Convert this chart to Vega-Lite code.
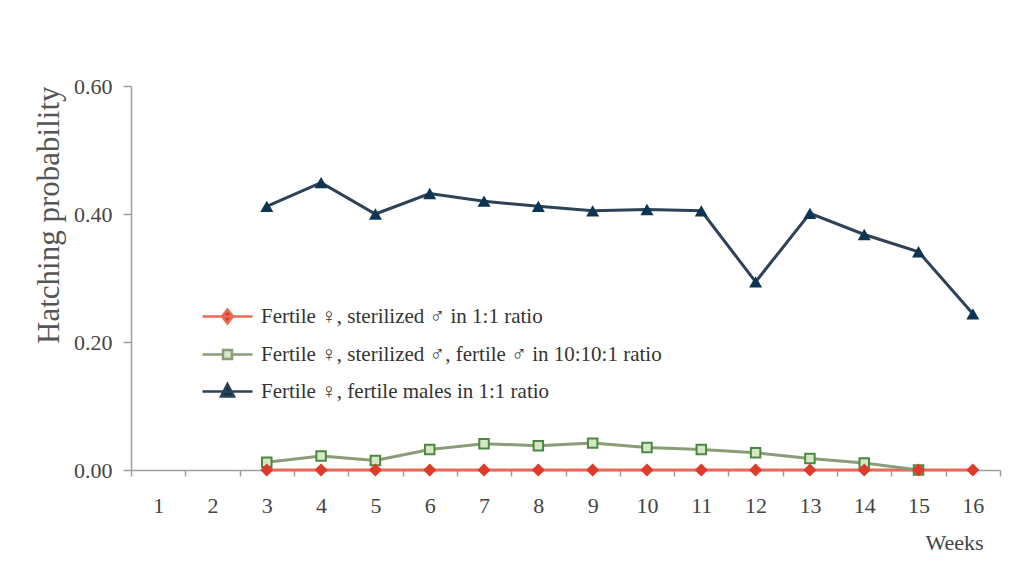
{
  "$schema": "https://vega.github.io/schema/vega-lite/v6.json",
  "width": 869,
  "height": 384,
  "autosize": "none",
  "padding": {"left": 131, "top": 86, "right": 19, "bottom": 93},
  "background": "white",
  "config": {"font": "Liberation Serif", "view": {"stroke": null}},
  "data": {"values": [
    {"week": 3, "series": "Fertile ♀, sterilized ♂ in 1:1 ratio", "p": 0},
    {"week": 4, "series": "Fertile ♀, sterilized ♂ in 1:1 ratio", "p": 0},
    {"week": 5, "series": "Fertile ♀, sterilized ♂ in 1:1 ratio", "p": 0},
    {"week": 6, "series": "Fertile ♀, sterilized ♂ in 1:1 ratio", "p": 0},
    {"week": 7, "series": "Fertile ♀, sterilized ♂ in 1:1 ratio", "p": 0},
    {"week": 8, "series": "Fertile ♀, sterilized ♂ in 1:1 ratio", "p": 0},
    {"week": 9, "series": "Fertile ♀, sterilized ♂ in 1:1 ratio", "p": 0},
    {"week": 10, "series": "Fertile ♀, sterilized ♂ in 1:1 ratio", "p": 0},
    {"week": 11, "series": "Fertile ♀, sterilized ♂ in 1:1 ratio", "p": 0},
    {"week": 12, "series": "Fertile ♀, sterilized ♂ in 1:1 ratio", "p": 0},
    {"week": 13, "series": "Fertile ♀, sterilized ♂ in 1:1 ratio", "p": 0},
    {"week": 14, "series": "Fertile ♀, sterilized ♂ in 1:1 ratio", "p": 0},
    {"week": 15, "series": "Fertile ♀, sterilized ♂ in 1:1 ratio", "p": 0},
    {"week": 16, "series": "Fertile ♀, sterilized ♂ in 1:1 ratio", "p": 0},
    {"week": 3, "series": "Fertile ♀, sterilized ♂, fertile ♂ in 10:10:1 ratio", "p": 0.012},
    {"week": 4, "series": "Fertile ♀, sterilized ♂, fertile ♂ in 10:10:1 ratio", "p": 0.022},
    {"week": 5, "series": "Fertile ♀, sterilized ♂, fertile ♂ in 10:10:1 ratio", "p": 0.015},
    {"week": 6, "series": "Fertile ♀, sterilized ♂, fertile ♂ in 10:10:1 ratio", "p": 0.032},
    {"week": 7, "series": "Fertile ♀, sterilized ♂, fertile ♂ in 10:10:1 ratio", "p": 0.041},
    {"week": 8, "series": "Fertile ♀, sterilized ♂, fertile ♂ in 10:10:1 ratio", "p": 0.038},
    {"week": 9, "series": "Fertile ♀, sterilized ♂, fertile ♂ in 10:10:1 ratio", "p": 0.042},
    {"week": 10, "series": "Fertile ♀, sterilized ♂, fertile ♂ in 10:10:1 ratio", "p": 0.035},
    {"week": 11, "series": "Fertile ♀, sterilized ♂, fertile ♂ in 10:10:1 ratio", "p": 0.032},
    {"week": 12, "series": "Fertile ♀, sterilized ♂, fertile ♂ in 10:10:1 ratio", "p": 0.027},
    {"week": 13, "series": "Fertile ♀, sterilized ♂, fertile ♂ in 10:10:1 ratio", "p": 0.018},
    {"week": 14, "series": "Fertile ♀, sterilized ♂, fertile ♂ in 10:10:1 ratio", "p": 0.011},
    {"week": 15, "series": "Fertile ♀, sterilized ♂, fertile ♂ in 10:10:1 ratio", "p": 0.0},
    {"week": 3, "series": "Fertile ♀, fertile males in 1:1 ratio", "p": 0.412},
    {"week": 4, "series": "Fertile ♀, fertile males in 1:1 ratio", "p": 0.449},
    {"week": 5, "series": "Fertile ♀, fertile males in 1:1 ratio", "p": 0.4},
    {"week": 6, "series": "Fertile ♀, fertile males in 1:1 ratio", "p": 0.432},
    {"week": 7, "series": "Fertile ♀, fertile males in 1:1 ratio", "p": 0.42},
    {"week": 8, "series": "Fertile ♀, fertile males in 1:1 ratio", "p": 0.412},
    {"week": 9, "series": "Fertile ♀, fertile males in 1:1 ratio", "p": 0.405},
    {"week": 10, "series": "Fertile ♀, fertile males in 1:1 ratio", "p": 0.407},
    {"week": 11, "series": "Fertile ♀, fertile males in 1:1 ratio", "p": 0.405},
    {"week": 12, "series": "Fertile ♀, fertile males in 1:1 ratio", "p": 0.294},
    {"week": 13, "series": "Fertile ♀, fertile males in 1:1 ratio", "p": 0.401},
    {"week": 14, "series": "Fertile ♀, fertile males in 1:1 ratio", "p": 0.368},
    {"week": 15, "series": "Fertile ♀, fertile males in 1:1 ratio", "p": 0.341},
    {"week": 16, "series": "Fertile ♀, fertile males in 1:1 ratio", "p": 0.244}
  ]},
  "encoding": {
    "x": {
      "field": "week", "type": "ordinal", "bandPosition": 0.5,
      "scale": {"type": "band", "domain": [1,2,3,4,5,6,7,8,9,10,11,12,13,14,15,16], "paddingInner": 0, "paddingOuter": 0},
      "axis": {
        "labelAngle": 0, "tickBand": "extent", "tickSize": 6, "labelPadding": 19,
        "labelFontSize": 22, "labelColor": "#444", "domainColor": "#a0a0a0", "domainWidth": 1.5,
        "tickColor": "#a0a0a0", "tickWidth": 1.5, "grid": false,
        "title": "Weeks", "titleFontSize": 22, "titleFontWeight": "normal", "titleColor": "#444",
        "titleAlign": "right", "titleX": 852, "titlePadding": 16
      }
    },
    "y": {
      "field": "p", "type": "quantitative",
      "scale": {"domain": [0, 0.6]},
      "axis": {
        "values": [0, 0.2, 0.4, 0.6], "format": ".2f", "grid": false,
        "tickSize": 8, "labelPadding": 11, "labelFontSize": 22, "labelColor": "#444",
        "domainColor": "#a0a0a0", "domainWidth": 1.5, "tickColor": "#a0a0a0", "tickWidth": 1.5,
        "title": "Hatching probability", "titleFontSize": 31, "titleFontWeight": "normal",
        "titleColor": "#555", "titleAnchor": "end", "titlePadding": 8
      }
    }
  },
  "layer": [
    {
      "mark": {"type": "line", "strokeWidth": 3},
      "encoding": {
        "color": {
          "field": "series", "type": "nominal",
          "scale": {
            "domain": ["Fertile ♀, sterilized ♂ in 1:1 ratio", "Fertile ♀, sterilized ♂, fertile ♂ in 10:10:1 ratio", "Fertile ♀, fertile males in 1:1 ratio"],
            "range": ["#ea6a58", "#8a9c78", "#2d4256"]
          },
          "legend": {
            "orient": "none", "legendX": 85, "legendY": 219, "title": null,
            "symbolSize": 400, "symbolStrokeWidth": 2.5, "labelFontSize": 21, "labelColor": "#333",
            "labelFont": "Liberation Serif, Noto Sans CJK JP",
            "labelOffset": 22, "rowPadding": 14, "padding": 0, "labelLimit": 700,
            "encode": {
              "symbols": {
                "update": {
                  "shape": {"signal": "datum.value == 'Fertile ♀, sterilized ♂, fertile ♂ in 10:10:1 ratio' ? 'M-2.5,0L-0.45,0M0.45,0L2.5,0M-0.45,-0.45L0.45,-0.45L0.45,0.45L-0.45,0.45Z' : datum.value == 'Fertile ♀, fertile males in 1:1 ratio' ? 'M-2.5,0L2.5,0M0,-0.75L0.65,0.5L-0.65,0.5Z' : 'M-2.5,0L2.5,0M0,-0.7L0.55,0L0,0.7L-0.55,0Z'"},
                  "fill": {"signal": "datum.value == 'Fertile ♀, sterilized ♂, fertile ♂ in 10:10:1 ratio' ? '#d6e6c6' : datum.value == 'Fertile ♀, fertile males in 1:1 ratio' ? '#0d3553' : '#e03a2a'"},
                  "opacity": {"value": 1}
                }
              }
            }
          }
        }
      }
    },
    {
      "transform": [{"filter": {"field": "series", "equal": "Fertile ♀, sterilized ♂, fertile ♂ in 10:10:1 ratio"}}],
      "mark": {"type": "point", "shape": "square", "filled": true, "fill": "#d6e6c6", "stroke": "#4a8a3e", "strokeWidth": 2, "size": 90, "opacity": 1}
    },
    {
      "transform": [{"filter": {"field": "series", "equal": "Fertile ♀, sterilized ♂ in 1:1 ratio"}}],
      "mark": {"type": "point", "shape": "diamond", "filled": true, "color": "#e03a2a", "size": 170, "opacity": 1}
    },
    {
      "transform": [{"filter": {"field": "series", "equal": "Fertile ♀, fertile males in 1:1 ratio"}}],
      "mark": {"type": "point", "shape": "triangle-up", "filled": true, "color": "#0d3553", "size": 170, "opacity": 1}
    }
  ]
}
